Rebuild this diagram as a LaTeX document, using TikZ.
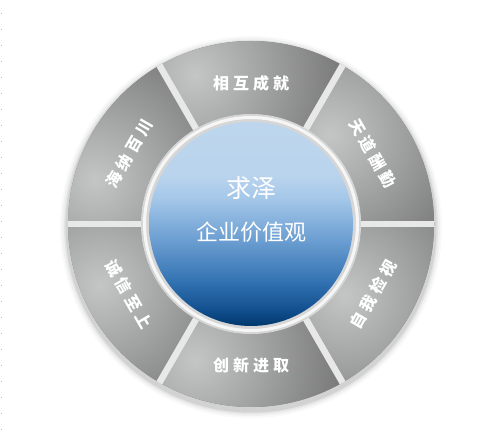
\documentclass[tikz,border=0pt]{standalone}
\usepackage{fontspec}
\newfontfamily\cjk{Noto Sans CJK SC}
\usetikzlibrary{calc}
\definecolor{seglight}{RGB}{196,198,198}
\definecolor{segdark}{RGB}{120,120,120}
\definecolor{gapc}{RGB}{232,232,232}
\definecolor{ringc}{RGB}{214,214,214}
\pgfdeclareverticalshading{blueball}{100bp}{rgb(0bp)=(0.0,0.22,0.42); rgb(25bp)=(0.0,0.22,0.42); rgb(29bp)=(0.07,0.31,0.56); rgb(36bp)=(0.20,0.45,0.70); rgb(46bp)=(0.42,0.62,0.82); rgb(56bp)=(0.64,0.78,0.91); rgb(62bp)=(0.73,0.83,0.93); rgb(75bp)=(0.74,0.84,0.93); rgb(100bp)=(0.74,0.84,0.93)}
\newcommand{\spacedfour}[4]{#1\hspace{4pt}#2\hspace{4pt}#3\hspace{4pt}#4}
\begin{document}
\begin{tikzpicture}[x=1pt,y=1pt,
  lbl/.style={text=white, inner sep=0pt, font=\cjk\bfseries\fontsize{16}{19}\selectfont},
  centertext/.style={text=white, inner sep=0pt}]
\useasboundingbox (0,0) rectangle (500,438);
\fill[white] (0,0) rectangle (500,438);
\foreach \yy in {14,30,...,430} \fill[gray!55] (0.5,438-\yy-0.5) rectangle (1.5,438-\yy+0.5);
\begin{scope}[shift={(251,214)}]
  % soft shadow of the wheel
  \foreach \r/\o in {191/0.025,189/0.035,187/0.05,185.5/0.07} \fill[black,opacity=\o] (0,-3) circle (\r);
  % segments
  \foreach \a/\lx/\ly in {60/-56/149, 0/79/89, -60/94/-71, 240/-56/-136, 180/-151/-61, 120/-156/44}{
    \begin{scope}
      \clip (\a:110) arc[start angle=\a, end angle=\a+60, radius=110] -- (\a+60:183) arc[start angle=\a+60, end angle=\a, radius=183] -- cycle;
      \fill[segdark] (-200,-200) rectangle (200,200);
      \shade[inner color=seglight, outer color=segdark] (\lx,\ly) circle (150);
    \end{scope}
  }
  % gaps between segments
  \foreach \a in {0,60,...,300} \draw[gapc, line width=6.5] (\a:100) -- (\a:183.3);
  % ring round the centre
  \fill[ringc] (0,0) circle (110);
  \draw[white, opacity=0.8, line width=3] (0,0) circle (106.5);
  \shade[shading=blueball] (0,0) circle (102);
  \node[circle, minimum size=204pt, inner sep=0pt] (core) at (0,0) {};
  % segment labels
  \foreach \ang/\rot/\txt/\nm in {90/0/{\spacedfour{相}{互}{成}{就}}/top, 30/-60/{\spacedfour{天}{道}{酬}{勤}}/ur, -30/60/{\spacedfour{自}{我}{检}{视}}/lr, 270/0/{\spacedfour{创}{新}{进}{取}}/bot, 210/-60/{\spacedfour{诚}{信}{至}{上}}/ll, 150/60/{\spacedfour{海}{纳}{百}{川}}/ul}{
    \node[lbl, rotate=\rot] (l\nm) at (\ang:141) {\txt};
  }
  \node[centertext, font=\cjk\fontsize{25}{29}\selectfont] (qiuze) at (0,36) {求泽};
  \node[centertext, font=\cjk\fontsize{22}{26}\selectfont] (jzg) at (0,-8) {企业价值观};
\end{scope}
\end{tikzpicture}
\end{document}
